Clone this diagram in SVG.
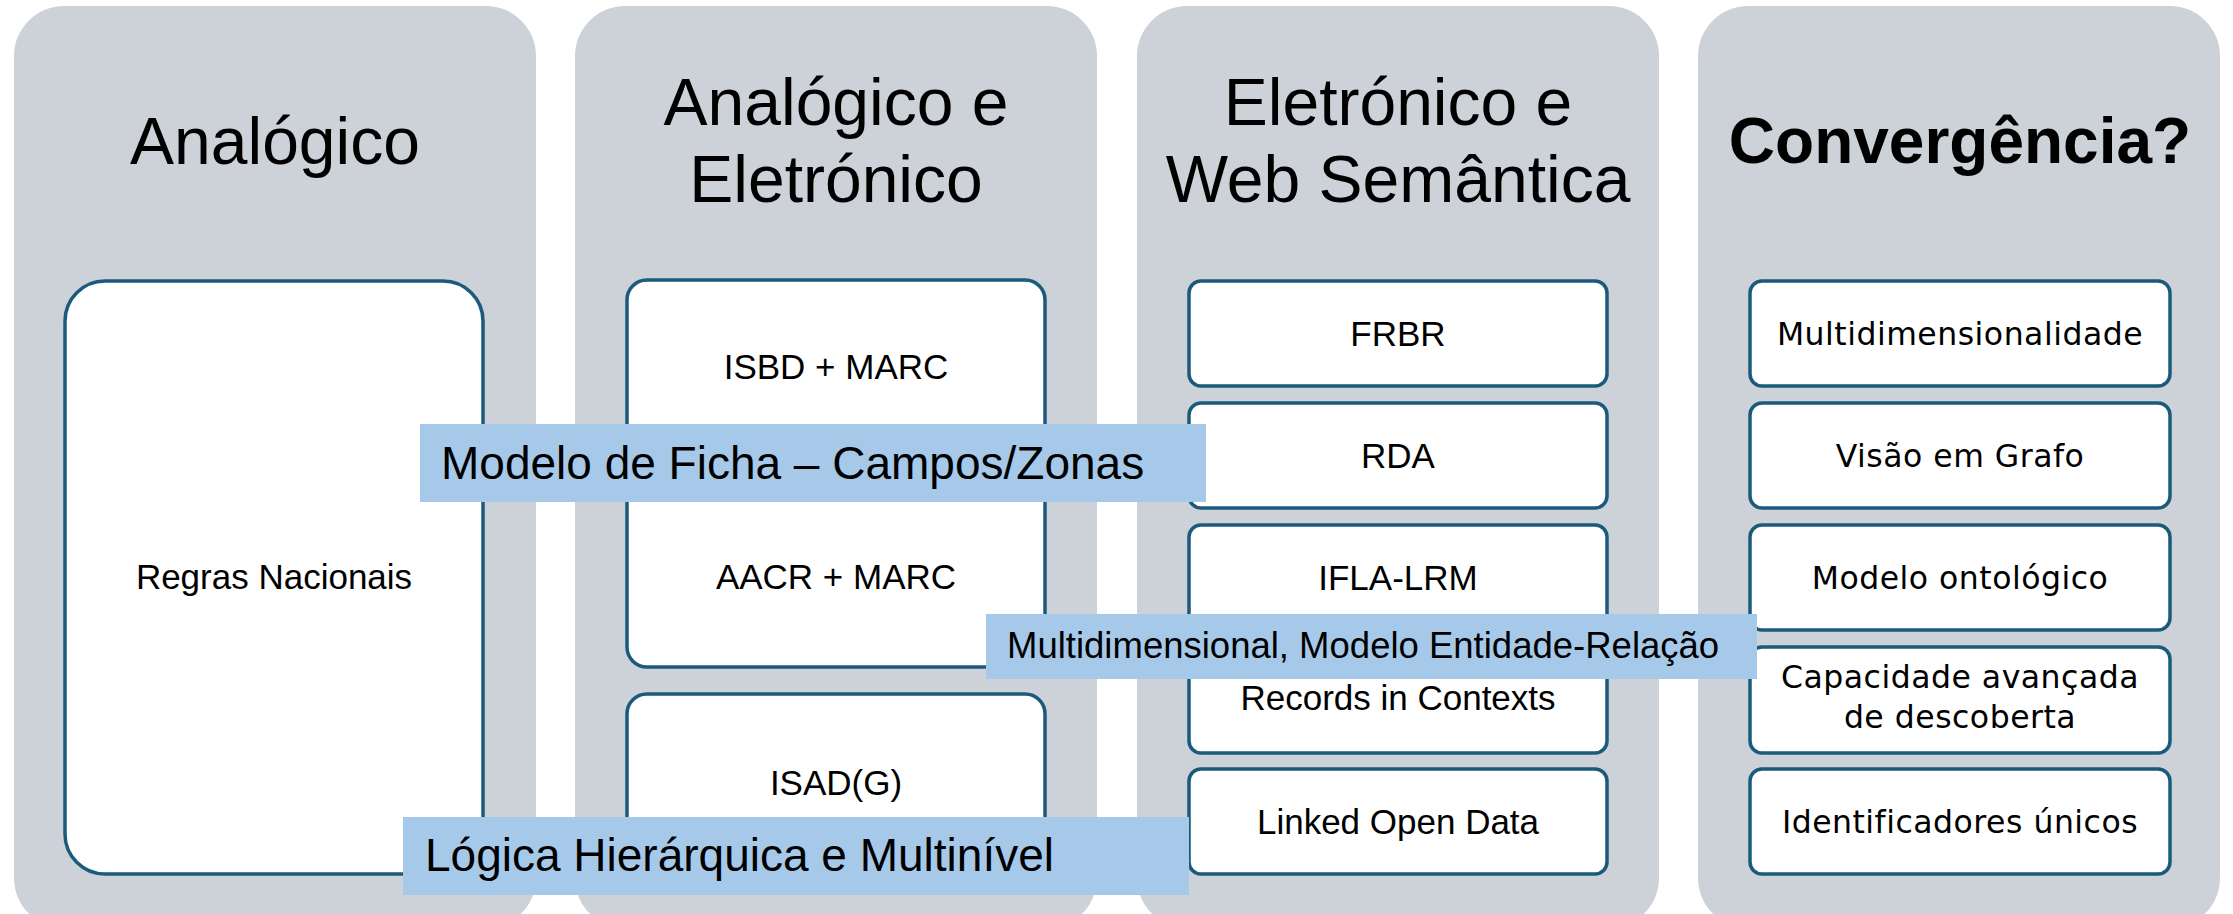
<svg xmlns="http://www.w3.org/2000/svg" width="2233" height="914" viewBox="0 0 2233 914">
  <style>
    .panel { fill: #cdd2d9; }
    .box { fill: #ffffff; stroke: #1b5a7b; stroke-width: 3.5; }
    .title { font-family: "Liberation Sans", Arial, sans-serif; font-size: 66px; fill: #000; text-anchor: middle; }
    .title-bold { font-family: "Liberation Sans", Arial, sans-serif; font-size: 64px; font-weight: bold; fill: #000; text-anchor: middle; }
    .item { font-family: "Liberation Sans", Arial, sans-serif; font-size: 35px; fill: #000; text-anchor: middle; }
    .item-wide { font-family: "DejaVu Sans", Verdana, sans-serif; font-size: 31.5px; fill: #000; text-anchor: middle; letter-spacing: 0.5px; }
    .band { fill: #a6c9ea; }
    .band-text { font-family: "Liberation Sans", Arial, sans-serif; fill: #000; }
  </style>

  <!-- Column backgrounds -->
  <g id="col-analogico">
    <rect class="panel" x="14" y="6" width="522" height="922" rx="50"/>
    <text class="title" x="275" y="164">Analógico</text>
  </g>
  <g id="col-analogico-eletronico">
    <rect class="panel" x="575" y="6" width="522" height="922" rx="50"/>
    <text class="title" x="836" y="125">Analógico e</text>
    <text class="title" x="836" y="202">Eletrónico</text>
  </g>
  <g id="col-eletronico-web">
    <rect class="panel" x="1137" y="6" width="522" height="922" rx="50"/>
    <text class="title" x="1398" y="125">Eletrónico e</text>
    <text class="title" x="1398" y="202">Web Semântica</text>
  </g>
  <g id="col-convergencia">
    <rect class="panel" x="1698" y="6" width="522" height="922" rx="50"/>
    <text class="title-bold" x="1960" y="163">Convergência?</text>
  </g>

  <!-- Column 1 -->
  <g id="regras-nacionais">
    <rect class="box" x="65" y="281" width="418" height="593" rx="40"/>
    <text class="item" x="274" y="589">Regras Nacionais</text>
  </g>

  <!-- Column 2 -->
  <g id="isbd-aacr-marc">
    <rect class="box" x="627" y="280" width="418" height="387" rx="20"/>
    <text class="item" x="836" y="379">ISBD + MARC</text>
    <text class="item" x="836" y="589">AACR + MARC</text>
  </g>
  <g id="isad-g">
    <rect class="box" x="627" y="694" width="418" height="180" rx="20"/>
    <text class="item" x="836" y="795">ISAD(G)</text>
  </g>

  <!-- Column 3 -->
  <g id="frbr">
    <rect class="box" x="1189" y="281" width="418" height="105" rx="12"/>
    <text class="item" x="1398" y="346">FRBR</text>
  </g>
  <g id="rda">
    <rect class="box" x="1189" y="403" width="418" height="105" rx="12"/>
    <text class="item" x="1398" y="468">RDA</text>
  </g>
  <g id="ifla-lrm">
    <rect class="box" x="1189" y="525" width="418" height="105" rx="12"/>
    <text class="item" x="1398" y="590">IFLA-LRM</text>
  </g>
  <g id="ric">
    <rect class="box" x="1189" y="647" width="418" height="106" rx="12"/>
    <text class="item" x="1398" y="710">Records in Contexts</text>
  </g>
  <g id="lod">
    <rect class="box" x="1189" y="769" width="418" height="105" rx="12"/>
    <text class="item" x="1398" y="834">Linked Open Data</text>
  </g>

  <!-- Column 4 -->
  <g id="multidimensionalidade">
    <rect class="box" x="1750" y="281" width="420" height="105" rx="12"/>
    <text class="item-wide" x="1960" y="345">Multidimensionalidade</text>
  </g>
  <g id="visao-grafo">
    <rect class="box" x="1750" y="403" width="420" height="105" rx="12"/>
    <text class="item-wide" x="1960" y="467">Visão em Grafo</text>
  </g>
  <g id="modelo-ontologico">
    <rect class="box" x="1750" y="525" width="420" height="105" rx="12"/>
    <text class="item-wide" x="1960" y="589">Modelo ontológico</text>
  </g>
  <g id="capacidade-descoberta">
    <rect class="box" x="1750" y="647" width="420" height="106" rx="12"/>
    <text class="item-wide" x="1960" y="688">Capacidade avançada</text>
    <text class="item-wide" x="1960" y="728">de descoberta</text>
  </g>
  <g id="identificadores">
    <rect class="box" x="1750" y="769" width="420" height="105" rx="12"/>
    <text class="item-wide" x="1960" y="833">Identificadores únicos</text>
  </g>

  <!-- Overlay bands -->
  <g id="band-ficha">
    <rect class="band" x="420" y="424" width="786" height="78"/>
    <text class="band-text" x="441" y="479" font-size="46">Modelo de Ficha – Campos/Zonas</text>
  </g>
  <g id="band-multidimensional">
    <rect class="band" x="986" y="614" width="771" height="65"/>
    <text class="band-text" x="1007" y="658" font-size="36.5">Multidimensional, Modelo Entidade-Relação</text>
  </g>
  <g id="band-hierarquica">
    <rect class="band" x="403" y="817" width="786" height="78"/>
    <text class="band-text" x="425" y="871" font-size="46">Lógica Hierárquica e Multinível</text>
  </g>
</svg>
